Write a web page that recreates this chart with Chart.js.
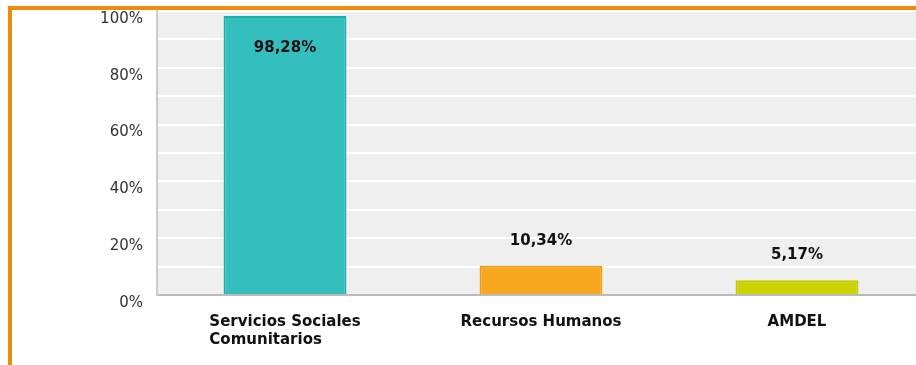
<!DOCTYPE html>
<html lang="es">
<head>
    <meta charset="UTF-8">
    <title>Servicios</title>
    <style>
        html, body {
            margin: 0;
            padding: 0;
            background: #fff;
            overflow: hidden;
            width: 916px;
            height: 365px;
        }
        #wrap {
            position: absolute;
            left: 0;
            top: 0;
            width: 925px;
            height: 365px;
        }
        #frame {
            position: absolute;
            left: 8px;
            top: 6px;
            width: 940px;
            height: 400px;
            border-top: 4px solid #F08A0C;
            border-left: 4px solid #F08A0C;
            pointer-events: none;
        }
    </style>
</head>
<body>
    <div id="wrap">
        <canvas id="chart" width="925" height="365"></canvas>
    </div>
    <div id="frame"></div>

    <script src="https://cdn.jsdelivr.net/npm/chart.js"></script>
    <script>
        const categories = [
            ['Servicios Sociales', 'Comunitarios'],
            ['Recursos Humanos'],
            ['AMDEL']
        ];
        const values = [98.28, 10.34, 5.17];
        const valueLabels = ['98,28%', '10,34%', '5,17%'];
        const yTicks = [0, 20, 40, 60, 80, 100];

        const fillColors = ['#34BEBE', '#F7A81E', '#CCD400'];
        const edgeColors = ['#17AEAE', '#F29C08', '#C2CA00'];

        // grey plot background, reaching up under the frame
        const plotBackground = {
            id: 'plotBackground',
            beforeDraw(chart) {
                const { ctx, chartArea } = chart;
                ctx.save();
                ctx.fillStyle = '#EFEFEF';
                ctx.fillRect(chartArea.left, chartArea.top - 2, chartArea.right - chartArea.left, chartArea.bottom - chartArea.top + 2);
                ctx.restore();
            }
        };

        // value labels on the bars and left-aligned category labels
        const barText = {
            id: 'barText',
            afterDatasetsDraw(chart) {
                const { ctx } = chart;
                const meta = chart.getDatasetMeta(0);
                const xScale = chart.scales.x;
                ctx.save();
                ctx.fillStyle = '#111111';
                ctx.textAlign = 'center';
                ctx.textBaseline = 'alphabetic';
                ctx.font = 'bold 15px "DejaVu Sans"';
                meta.data.forEach((bar, i) => {
                    const y = values[i] > 90 ? bar.y + 36 : bar.y - 21;
                    ctx.fillText(valueLabels[i], bar.x, y);
                });

                ctx.font = 'bold 15px "DejaVu Sans"';
                ctx.textAlign = 'left';
                categories.forEach((lines, i) => {
                    const cx = xScale.getPixelForValue(i);
                    const w = Math.max(...lines.map(l => ctx.measureText(l).width));
                    lines.forEach((line, j) => {
                        ctx.fillText(line, cx - w / 2, 326 + j * 18);
                    });
                });
                ctx.restore();
            }
        };

        const ctx = document.getElementById('chart').getContext('2d');
        new Chart(ctx, {
            type: 'bar',
            data: {
                labels: categories.map(c => c.join(' ')),
                datasets: [{
                    data: values,
                    backgroundColor: fillColors,
                    borderColor: edgeColors,
                    borderWidth: 2,
                    borderSkipped: 'bottom',
                    categoryPercentage: 1,
                    barPercentage: 0.48
                }]
            },
            options: {
                responsive: false,
                animation: false,
                layout: {
                    padding: { top: 11, left: 0, right: 0, bottom: 0 }
                },
                plugins: {
                    legend: { display: false },
                    tooltip: { enabled: false }
                },
                scales: {
                    x: {
                        grid: { display: false },
                        border: { color: '#BBBBBB', width: 2 },
                        ticks: { display: false },
                        afterFit(scale) { scale.height = 70; }
                    },
                    y: {
                        min: 0,
                        max: 100,
                        grid: {
                            color: '#FFFFFF',
                            lineWidth: 2,
                            drawTicks: false
                        },
                        border: { color: '#CCCCCC', width: 2 },
                        ticks: {
                            stepSize: 10,
                            padding: 14,
                            labelOffset: 8,
                            color: '#333333',
                            font: { family: 'DejaVu Sans', size: 15 },
                            callback: v => yTicks.includes(v) ? v + '%' : ''
                        },
                        afterFit(scale) {
                            scale.width = 157;
                            scale.paddingTop = 0;
                            scale.paddingBottom = 0;
                        }
                    }
                }
            },
            plugins: [plotBackground, barText]
        });
    </script>
</body>
</html>
